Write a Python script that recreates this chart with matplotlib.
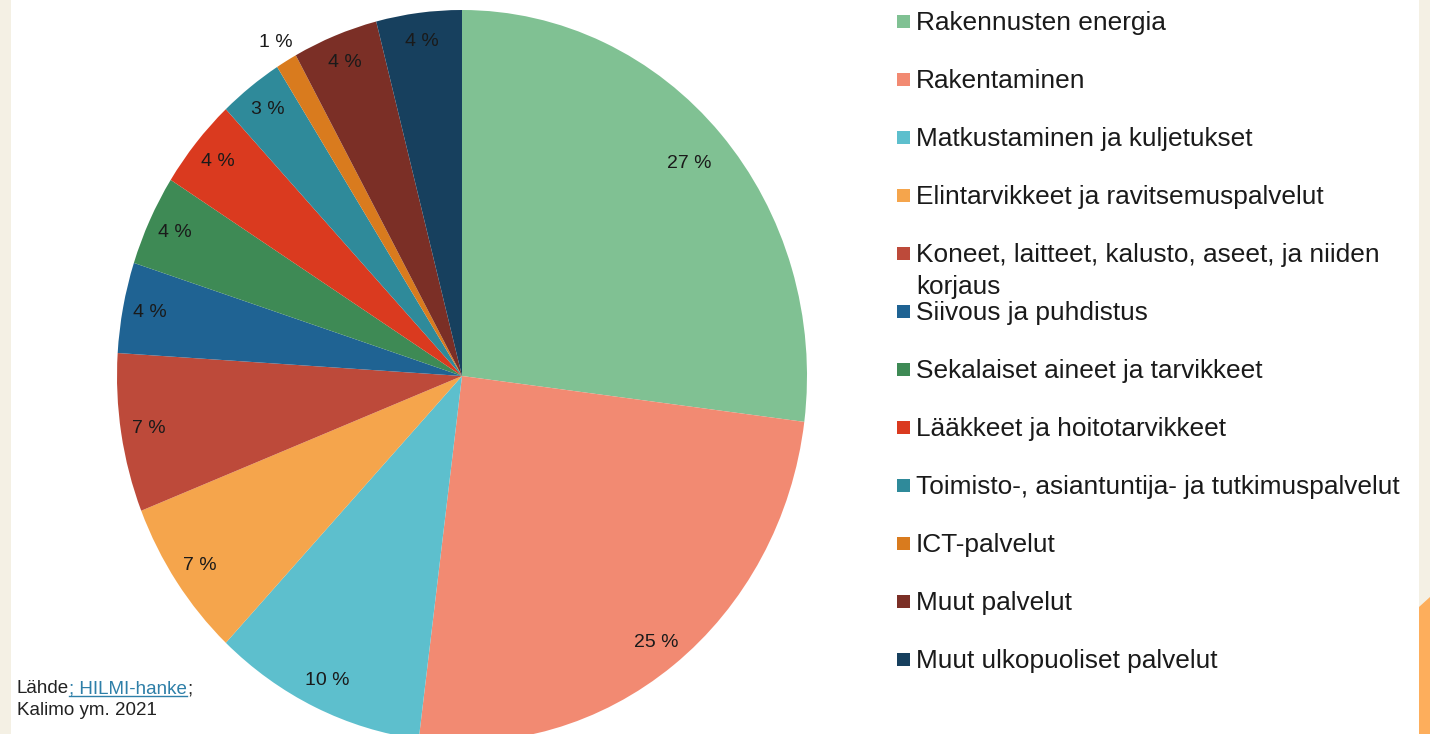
import numpy as np
import matplotlib
matplotlib.use("Agg")
import matplotlib.pyplot as plt
from matplotlib.patches import Rectangle, Polygon
from matplotlib.lines import Line2D

plt.rcParams["font.family"] = ["Liberation Sans", "DejaVu Sans"]

categories = [
    "Rakennusten energia",
    "Rakentaminen",
    "Matkustaminen ja kuljetukset",
    "Elintarvikkeet ja ravitsemuspalvelut",
    "Koneet, laitteet, kalusto, aseet, ja niiden\nkorjaus",
    "Siivous ja puhdistus",
    "Sekalaiset aineet ja tarvikkeet",
    "Lääkkeet ja hoitotarvikkeet",
    "Toimisto-, asiantuntija- ja tutkimuspalvelut",
    "ICT-palvelut",
    "Muut palvelut",
    "Muut ulkopuoliset palvelut",
]
shares = [27, 25, 10, 7, 7, 4, 4, 4, 3, 1, 4, 4]
colors = [
    "#80c193", "#f28a72", "#5dbfcd", "#f5a54c", "#bd4a3a", "#1f6393",
    "#3e8a55", "#da3a1f", "#2f8a9a", "#d97b1e", "#7b2f26", "#17405e",
]

W, H = 1430, 734
fig = plt.figure(figsize=(W / 100, H / 100), dpi=100)
fig.patch.set_facecolor("white")


def fx(px):
    return px / W


def fy(py):
    return 1 - py / H


# beige side strips and orange corner
fig.patches.append(Rectangle((0, 0), fx(11), 1, transform=fig.transFigure,
                             facecolor="#f4f0e4", edgecolor="none", zorder=0))
fig.patches.append(Rectangle((fx(1419), 0), fx(11), 1, transform=fig.transFigure,
                             facecolor="#f4f0e4", edgecolor="none", zorder=0))
fig.patches.append(Polygon([(fx(1419), fy(607)), (1, fy(597)), (1, 0), (fx(1419), 0)],
                           closed=True, transform=fig.transFigure,
                           facecolor="#fdae5c", edgecolor="none", zorder=0))

# pie axes, slightly taller than wide like the original slide
cx, cy, rx, ry = 462, 376, 345, 366
lim = 1.2
ax = fig.add_axes([fx(cx - rx * lim), fy(cy + ry * lim), 2 * rx * lim / W, 2 * ry * lim / H])
wedges, texts, autotexts = ax.pie(
    shares, colors=colors, startangle=90, counterclock=False,
    autopct=lambda p: f"{p:.0f} %", pctdistance=0.92,
    wedgeprops=dict(linewidth=0),
    textprops=dict(fontsize=14, color="#1a1a1a"),
)
ax.set_aspect("auto")
ax.set_xlim(-lim, lim)
ax.set_ylim(-lim, lim)
ax.axis("off")

# small slice label sits outside the pie; big first slice label a bit inward
for w, t, v in zip(wedges, autotexts, shares):
    a = np.deg2rad((w.theta1 + w.theta2) / 2)
    if v <= 1:
        t.set_position((1.06 * np.cos(a), 1.06 * np.sin(a)))
    elif v >= 27:
        t.set_position((0.88 * np.cos(a), 0.88 * np.sin(a)))

# legend drawn by hand to keep the slide's row spacing
for i, (lab, col) in enumerate(zip(categories, colors)):
    base = 30 + 58.0 * i
    fig.patches.append(Rectangle((fx(897), fy(base - 2)), fx(13), 13 / H,
                                 transform=fig.transFigure, facecolor=col,
                                 edgecolor="none"))
    lines = lab.split("\n")
    fig.text(fx(916), fy(base), lines[0], fontsize=18.9, va="baseline",
             ha="left", color="#1a1a1a")
    if len(lines) > 1:
        fig.text(fx(916), fy(base + 32), lines[1], fontsize=18.9,
                 va="baseline", ha="left", color="#1a1a1a")

# source note
src_size = 13.5
t1 = fig.text(fx(17), fy(693), "Lähde", fontsize=src_size, va="baseline", color="#222222")
fig.canvas.draw()
r = fig.canvas.get_renderer()
bb = t1.get_window_extent(r)
t2 = fig.text(bb.x1 / W, fy(693), "; HILMI-hanke", fontsize=src_size, va="baseline",
              color="#2e7fa8")
fig.canvas.draw()
bb2 = t2.get_window_extent(r)
fig.text(bb2.x1 / W, fy(693), ";", fontsize=src_size, va="baseline", color="#222222")
fig.lines.append(Line2D([bb2.x0 / W, bb2.x1 / W], [fy(696), fy(696)],
                        transform=fig.transFigure, color="#2e7fa8", linewidth=1))
fig.text(fx(17), fy(715), "Kalimo ym. 2021", fontsize=src_size, va="baseline", color="#222222")

fig.savefig("out.png", dpi=100)
